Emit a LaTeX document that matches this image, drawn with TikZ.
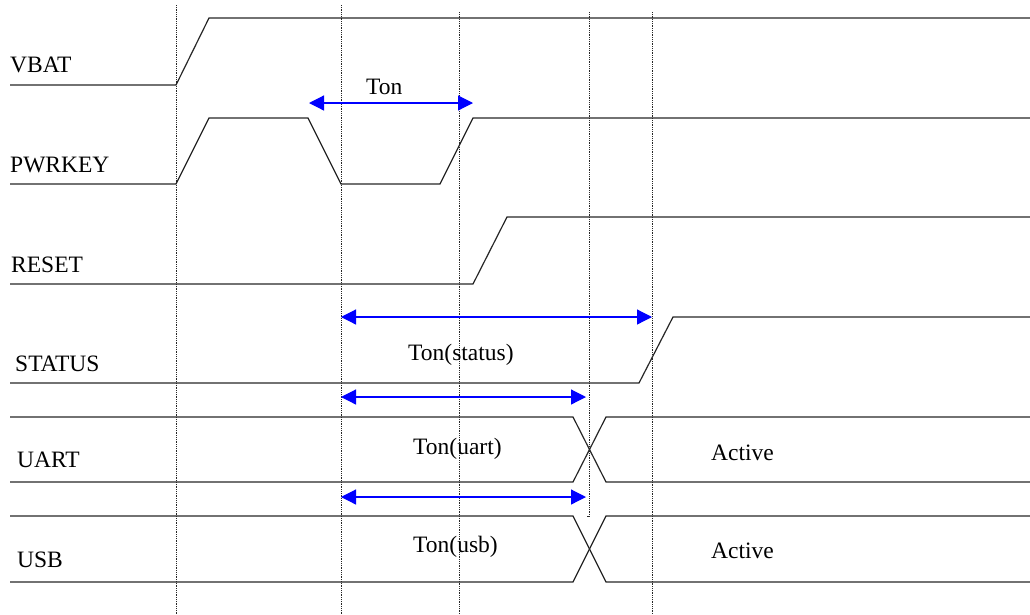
\documentclass[tikz,border=0pt]{standalone}
\usepackage{fontspec}
\setmainfont{Liberation Serif}
\usetikzlibrary{arrows.meta}
\tikzstyle{signal}=[draw=black!85,line width=1.2pt]
\tikzstyle{marker}=[draw=black!85,densely dotted,line width=0.8pt]
\tikzstyle{tspan}=[draw=blue,line width=1.2pt,{Triangle[length=15pt,width=15pt]}-{Triangle[length=15pt,width=15pt]}]
\tikzstyle{sigtext}=[anchor=base west,inner sep=0pt,font=\fontsize{23.5}{27}\selectfont]

\begin{document}
\begin{tikzpicture}[x=1pt,y=-1pt]

  \useasboundingbox (0,0) rectangle (1030,614);

  % dotted time markers
  \foreach \x/\top/\bot in {176/5/614, 341/5/614, 459/12/614, 652/12/614}
     \draw[marker] (\x,\top) -- (\x,\bot);
  \draw[marker] (589,12) -- (589,516) -- (587,516);

  % signal names
  \foreach \x/\y/\name/\label in {10/72/vbat/VBAT, 10/172/pwrkey/PWRKEY, 11/272/reset/RESET,
                                  15/371/status/STATUS, 17/467/uart/UART, 17/567/usb/USB}
     \node[sigtext] (\name) at (\x,\y) {\label};

  % waveforms
  \draw[signal] (10,85) -- (176,85) -- (209,18) -- (1030,18);
  \draw[signal] (10,184) -- (176,184) -- (209,118) -- (308,118) -- (341,184) -- (440,184) -- (473,118) -- (1030,118);
  \draw[signal] (10,284) -- (473,284) -- (507,217) -- (1030,217);
  \draw[signal] (10,383) -- (639,383) -- (673,317) -- (1030,317);

  \foreach \hi/\lo in {417/482, 516/582} {
     \draw[signal] (10,\hi) -- (573,\hi) -- (606,\lo) -- (1030,\lo);
     \draw[signal] (10,\lo) -- (573,\lo) -- (606,\hi) -- (1030,\hi);
  }

  % timing spans
  \foreach \l/\r/\y/\name in {309/473/103/ton, 341/652/317/tstatus, 341/586/397/tuart, 341/586/497/tusb} {
     \coordinate (\name-l) at (\l,\y);
     \coordinate (\name-r) at (\r,\y);
     \draw[tspan] (\name-l) -- (\name-r);
  }

  \foreach \x/\y/\name/\label in {366/94/ton-txt/Ton, 408/360/tstatus-txt/Ton(status),
                                  413/454/tuart-txt/Ton(uart), 413/552/tusb-txt/Ton(usb),
                                  711/460/uart-act/Active, 711/558/usb-act/Active}
     \node[sigtext] (\name) at (\x,\y) {\label};

\end{tikzpicture}
\end{document}
